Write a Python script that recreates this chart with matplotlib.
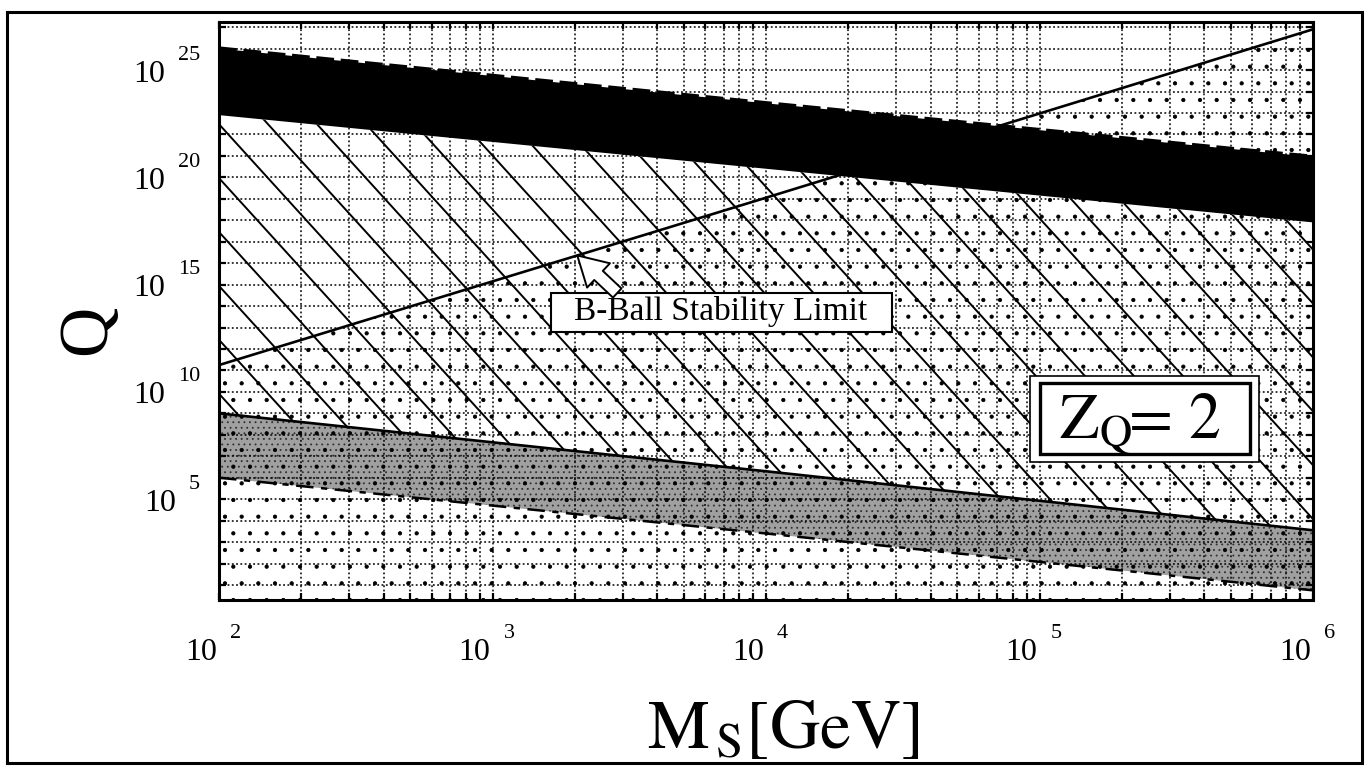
import numpy as np
import matplotlib
matplotlib.use('Agg')
import matplotlib.pyplot as plt
from matplotlib.patches import Rectangle, Polygon
from matplotlib.collections import LineCollection
from matplotlib.ticker import LogLocator, FixedLocator, NullFormatter, NullLocator

plt.rcParams['font.family'] = ['Liberation Serif', 'DejaVu Serif']
plt.rcParams['mathtext.fontset'] = 'stix'
plt.rcParams['hatch.linewidth'] = 0.6

# M_S [GeV] sample points and log10(Q) of each boundary curve
ms = np.array([1e2, 1e4, 1e6])
log_band_top = np.array([26.0, 23.45, 20.95])      # upper edge of the black band
log_band_bottom = np.array([22.9, 20.4, 17.9])     # lower edge of the black band
log_stability = np.array([11.25, 19.05, 26.9])     # B-ball stability limit
log_lower_solid = np.array([9.0, 6.3, 3.55])       # solid line, top of grey band
log_lower_dash = np.array([6.0, 3.4, 0.75])        # dash-dot line, bottom of grey band

x_label_powers = [2, 3, 4, 5, 6]
y_label_powers = [5, 10, 15, 20, 25]
y_grid_powers = np.arange(1, 28)
y_limits = (10**0.3, 10**27.24)

band_top = 10**log_band_top
band_bottom = 10**log_band_bottom
stability = 10**log_stability
lower_solid = 10**log_lower_solid
lower_dash = 10**log_lower_dash

W, H = 1367, 768
fig = plt.figure(figsize=(W / 100, H / 100), dpi=100)
fig.patch.set_facecolor('white')
ax = fig.add_axes([219 / W, 1 - 600 / H, 1094 / W, 578 / H])
ax.set_xscale('log')
ax.set_yscale('log')
ax.set_xlim(1e2, 1e6)
ax.set_ylim(*y_limits)

# grey stippled band
ax.fill_between(ms, lower_dash, lower_solid, facecolor='#a0a0a0', edgecolor='none', zorder=1)
ax.fill_between(ms, lower_dash, lower_solid, facecolor='none', edgecolor='#303030',
                hatch='...', linewidth=0, zorder=1.05)

# speckle below the stability limit
ax.fill_between(ms, y_limits[0], stability, facecolor='none', edgecolor='black',
                hatch='.', linewidth=0, zorder=1.1)

# diagonal hatching between black band and the solid lower line
clip = Polygon(np.column_stack([np.r_[ms, ms[::-1]],
                                np.r_[lower_solid, band_bottom[::-1]]]),
               closed=True, transform=ax.transData, facecolor='none', edgecolor='none')
ax.add_patch(clip)
slope = 1.1 * 1094 / 578
step = 49 * 1.1 / 578
segs = [[(0, c), (1, c - slope)] for c in 0.6367 + step * np.arange(-10, 40)]
hatch = LineCollection(segs, colors='black', linewidths=1.4, transform=ax.transAxes, zorder=1.3)
hatch.set_clip_path(clip)
ax.add_collection(hatch)

# black band with a heavy dashed upper edge
ax.fill_between(ms, band_bottom, band_top, facecolor='black', edgecolor='none', zorder=2)
ax.plot(ms, band_top, color='black', lw=3.2, dashes=(4, 1.5), zorder=2.1)

# curves
ax.plot(ms, stability, color='black', lw=1.9, zorder=3)
ax.plot(ms, lower_solid, color='black', lw=1.9, zorder=3)
ax.plot(ms, lower_dash, color='black', lw=1.8, dashes=(7, 3, 2.5, 3), zorder=3)

# ticks and grid
ax.xaxis.set_major_locator(LogLocator(base=10, subs=(1.0,), numticks=20))
ax.xaxis.set_minor_locator(LogLocator(base=10, subs=np.arange(2, 10), numticks=20))
ax.yaxis.set_major_locator(FixedLocator(10.0**y_grid_powers))
ax.yaxis.set_minor_locator(NullLocator())
ax.xaxis.set_minor_formatter(NullFormatter())
ax.tick_params(which='both', direction='in', length=5, width=1.6, top=True, right=True,
               labelleft=False, labelbottom=False)
ax.grid(which='both', axis='x', color='black', lw=1.1, dashes=(1.2, 1.6), zorder=1.5)
ax.grid(which='major', axis='y', color='black', lw=1.1, dashes=(1.2, 1.6), zorder=1.5)
ax.set_axisbelow(False)
for sp in ax.spines.values():
    sp.set_linewidth(2.2)
    sp.set_zorder(4)

# tick labels written as 10 with a raised exponent
for n in y_label_powers:
    sup = ax.annotate(str(n), xy=(0, 10.0**n), xycoords=('axes fraction', 'data'),
                      xytext=(-19, 15), textcoords='offset pixels',
                      ha='right', va='center', fontsize=16)
    ax.annotate('10', xy=(0, 0.5), xycoords=sup, xytext=(-13, -19),
                textcoords='offset pixels', ha='right', va='center', fontsize=23)

for n in x_label_powers:
    base = ax.annotate('10', xy=(10.0**n, 0), xycoords=('data', 'axes fraction'),
                       xytext=(-2, -52), textcoords='offset pixels',
                       ha='right', va='center', fontsize=23)
    ax.annotate(str(n), xy=(1, 0.5), xycoords=base, xytext=(13, 19),
                textcoords='offset pixels', ha='left', va='center', fontsize=16)

# axis titles
fig.text(88 / W, 1 - 330 / H, 'Q', rotation=90, fontsize=50, ha='center', va='center')
fig.text(783 / W, 1 - 748 / H, r'$\mathrm{M}_{\,\mathrm{S}}[\mathrm{GeV}]$',
         fontsize=50, ha='center', va='baseline')

# stability-limit label with hollow arrow
ax.add_patch(Rectangle((0.3035, 0.4637), 0.3117, 0.0674, transform=ax.transAxes,
                       facecolor='white', edgecolor='black', lw=1.5, zorder=5))
ax.text(0.4589, 0.4983, 'B-Ball Stability Limit', transform=ax.transAxes,
        fontsize=24, ha='center', va='center', zorder=6)
tip_logx = 3.31
tip_x = 10**tip_logx
tip_y = 10**np.interp(tip_logx, np.log10(ms), log_stability)
ax.annotate('', xy=(tip_x, tip_y), xycoords='data',
            xytext=(0.364, 0.5311), textcoords='axes fraction',
            arrowprops=dict(arrowstyle='simple,head_length=0.7,head_width=0.8,tail_width=0.3',
                            mutation_scale=30, facecolor='white', edgecolor='black', lw=1.4,
                            shrinkA=0, shrinkB=0),
            zorder=5.5)

# Z_Q box with double frame
ax.add_patch(Rectangle((0.7413, 0.2388), 0.2093, 0.1487, transform=ax.transAxes,
                       facecolor='white', edgecolor='black', lw=1.2, zorder=5))
ax.add_patch(Rectangle((0.7505, 0.2526), 0.1919, 0.1228, transform=ax.transAxes,
                       facecolor='white', edgecolor='black', lw=2.4, zorder=5.1))
ax.text(0.842, 0.280, r'$\mathrm{Z}_{\mathrm{Q}}\!\!=\,2$', transform=ax.transAxes,
        fontsize=46, ha='center', va='baseline', zorder=6)

# outer frame of the figure
fig.add_artist(Rectangle((7 / W, 1 - 763 / H), (1362 - 7) / W, (763 - 12) / H,
                         transform=fig.transFigure, fill=False, lw=2.2, edgecolor='black'))

fig.savefig('out.png', dpi=100)
